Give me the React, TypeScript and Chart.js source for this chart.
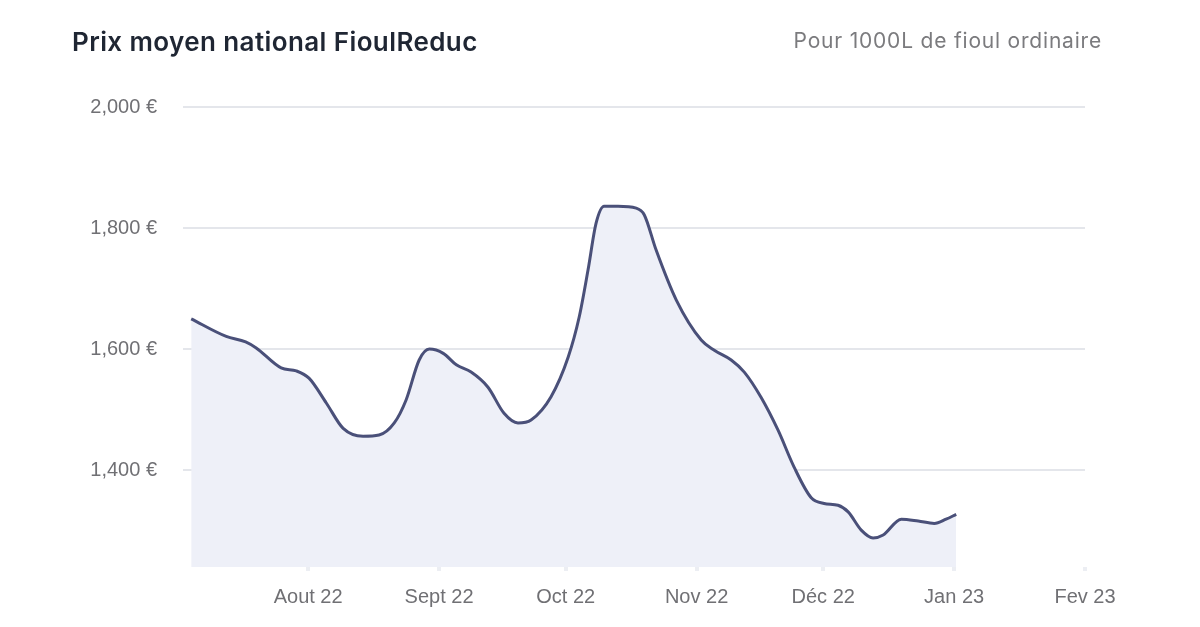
import React, { useEffect, useRef } from "react";
import { Chart, registerables } from "chart.js";

Chart.register(...registerables);

// Jours écoulés depuis le 1er juillet 2022
const days = [
  3.3, 11.6, 16.2, 18.7, 24.6, 28.2, 31.2, 35.3, 39.3, 44.0, 47.8, 51.4, 54.2,
  57.3, 59.7, 63.0, 66.1, 69.6, 73.6, 77.4, 80.7, 83.8, 88.5, 92.6, 95.2, 97.3,
  99.2, 101.1, 104.4, 108.7, 110.6, 113.4, 118.2, 124.1, 127.2, 131.2, 134.3,
  138.3, 142.3, 146.1, 150.1, 153.2, 156.5, 158.9, 162.0, 164.8, 167.2, 171.5,
  175.5, 179.3, 182.1, 184.5,
];
// Prix moyen pour 1000L (€)
const prices = [
  1650, 1621, 1612, 1602, 1569, 1564, 1552, 1511, 1469, 1456, 1458, 1478, 1516,
  1582, 1600, 1593, 1574, 1562, 1537, 1494, 1478, 1483, 1521, 1587, 1653, 1731,
  1808, 1836, 1836, 1833, 1822, 1764, 1681, 1615, 1598, 1582, 1562, 1520, 1466,
  1405, 1355, 1345, 1342, 1331, 1301, 1288, 1293, 1319, 1316, 1312, 1319, 1327,
];
const monthDays = [31, 62, 92, 123, 153, 184, 215];
const monthLabels = ["Aout 22", "Sept 22", "Oct 22", "Nov 22", "Déc 22", "Jan 23", "Fev 23"];
const yTicks = [1400, 1600, 1800, 2000];

const TITLE = "Prix moyen national FioulReduc";
const SUBTITLE = "Pour 1000L de fioul ordinaire";

export default function App() {
  const ref = useRef<HTMLCanvasElement | null>(null);

  useEffect(() => {
    if (!ref.current) return;
    const chart = new Chart(ref.current, {
      type: "line",
      data: {
        datasets: [
          {
            data: days.map((d, i) => ({ x: d, y: prices[i] })),
            borderColor: "#4a5079",
            borderWidth: 3,
            backgroundColor: "#eef0f8",
            fill: "start",
            cubicInterpolationMode: "monotone",
            pointRadius: 0,
          },
        ],
      },
      options: {
        animation: false,
        responsive: false,
        layout: { padding: { left: 0, top: 107, right: 115, bottom: 0 } },
        plugins: { legend: { display: false }, tooltip: { enabled: false } },
        scales: {
          x: {
            type: "linear",
            min: 1.36,
            max: 215,
            afterBuildTicks: (s: any) => {
              s.ticks = monthDays.map((v) => ({ value: v }));
            },
            afterFit: (s: any) => {
              s.height = 60;
            },
            ticks: {
              callback: (v: any) => monthLabels[monthDays.indexOf(Number(v))] ?? "",
              font: { family: "'Liberation Sans', Arial, sans-serif", size: 20 },
              color: "#707074",
              padding: 14,
              maxRotation: 0,
              autoSkip: false,
            },
            grid: {
              drawOnChartArea: false,
              drawTicks: true,
              tickLength: 4,
              color: "#eceef3",
              lineWidth: 4,
            },
            border: { display: false },
          },
          y: {
            min: 1240,
            max: 2000,
            afterBuildTicks: (s: any) => {
              s.ticks = yTicks.map((v) => ({ value: v }));
            },
            afterFit: (s: any) => {
              s.width = 183;
            },
            ticks: {
              callback: (v: any) => Number(v).toLocaleString("en-US") + " €",
              font: { family: "'Liberation Sans', Arial, sans-serif", size: 20 },
              color: "#707074",
              padding: 26,
            },
            grid: { color: "#e4e6eb", lineWidth: 2, drawTicks: false },
            border: { display: false },
          },
        },
      },
    } as any);
    return () => chart.destroy();
  }, []);

  return (
    <div
      style={{
        position: "fixed",
        left: 0,
        top: 0,
        width: 1200,
        height: 627,
        background: "#ffffff",
        overflow: "hidden",
      }}
    >
      <canvas
        ref={ref}
        width={1200}
        height={627}
        style={{ position: "absolute", left: 0, top: 0, width: 1200, height: 627, display: "block" }}
      />
      <div
        style={{
          position: "absolute",
          left: 72,
          top: 29,
          fontFamily: "Inter, 'Noto Sans', sans-serif",
          fontWeight: 600,
          fontSize: 26,
          letterSpacing: "0.4px",
          lineHeight: "26px",
          color: "#1f2633",
          whiteSpace: "nowrap",
        }}
      >
        {TITLE}
      </div>
      <div
        style={{
          position: "absolute",
          right: 98,
          top: 30,
          fontFamily: "Inter, 'Noto Sans', sans-serif",
          fontWeight: 400,
          fontSize: 21,
          letterSpacing: "0.8px",
          lineHeight: "21px",
          color: "#7b7b7e",
          whiteSpace: "nowrap",
        }}
      >
        {SUBTITLE}
      </div>
    </div>
  );
}
